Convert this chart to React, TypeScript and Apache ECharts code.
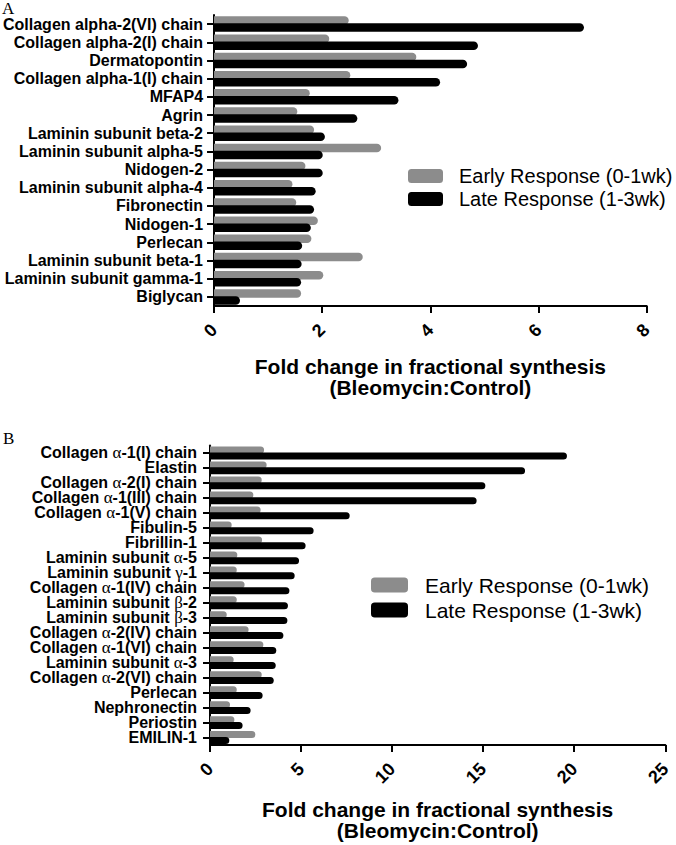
import React, { useEffect, useRef } from "react";
import * as echarts from "echarts";

const categoriesA = [
  "Collagen alpha-2(VI) chain",
  "Collagen alpha-2(I) chain",
  "Dermatopontin",
  "Collagen alpha-1(I) chain",
  "MFAP4",
  "Agrin",
  "Laminin subunit beta-2",
  "Laminin subunit alpha-5",
  "Nidogen-2",
  "Laminin subunit alpha-4",
  "Fibronectin",
  "Nidogen-1",
  "Perlecan",
  "Laminin subunit beta-1",
  "Laminin subunit gamma-1",
  "Biglycan",
];
const earlyA = [2.49, 2.13, 3.74, 2.52, 1.77, 1.54, 1.85, 3.09, 1.69, 1.45, 1.52, 1.92, 1.8, 2.75, 2.02, 1.61];
const lateA = [6.84, 4.88, 4.68, 4.18, 3.41, 2.65, 2.05, 2.01, 2.01, 1.88, 1.85, 1.79, 1.63, 1.62, 1.61, 0.48];

const categoriesB = [
  "Collagen α-1(I) chain",
  "Elastin",
  "Collagen α-2(I) chain",
  "Collagen α-1(III) chain",
  "Collagen α-1(V) chain",
  "Fibulin-5",
  "Fibrillin-1",
  "Laminin subunit α-5",
  "Laminin subunit γ-1",
  "Collagen α-1(IV) chain",
  "Laminin subunit β-2",
  "Laminin subunit β-3",
  "Collagen α-2(IV) chain",
  "Collagen α-1(VI) chain",
  "Laminin subunit α-3",
  "Collagen α-2(VI) chain",
  "Perlecan",
  "Nephronectin",
  "Periostin",
  "EMILIN-1",
];
const earlyB = [2.97, 3.11, 2.84, 2.38, 2.78, 1.19, 2.86, 1.5, 1.47, 1.9, 1.47, 0.92, 2.12, 2.93, 1.3, 2.84, 1.47, 1.1, 1.34, 2.49];
const lateB = [19.6, 17.3, 15.12, 14.64, 7.67, 5.69, 5.25, 4.89, 4.65, 4.36, 4.28, 4.25, 4.03, 3.64, 3.61, 3.5, 2.89, 2.23, 1.79, 1.06];

const seriesNames = ["Early Response (0-1wk)", "Late Response (1-3wk)"];
const axisTitle = "Fold change in fractional synthesis\n(Bleomycin:Control)";

const GRAY = "#8c8c8c";
const BLACK = "#000000";
const FONT = "Liberation Sans, Arial, sans-serif";

export default function App() {
  const ref = useRef<HTMLDivElement>(null);
  useEffect(() => {
    if (!ref.current) return;
    const chart = echarts.init(ref.current, null, { renderer: "svg" });
    const axisLine = { show: true, lineStyle: { color: "#000", width: 2 } };
    const axisTick = { show: true, length: 7, lineStyle: { color: "#000", width: 2 } };
    const xLabel = { rotate: 45, fontSize: 18, fontWeight: "bold", color: "#000", fontFamily: FONT, margin: 21 };
    const option: any = {
      animation: false,
      backgroundColor: "#fff",
      graphic: [
        { type: "text", left: 2, top: 0, style: { text: "A", fontFamily: "Liberation Serif, serif", fontSize: 17, fill: "#000" } },
        { type: "text", left: 3, top: 430, style: { text: "B", fontFamily: "Liberation Serif, serif", fontSize: 17, fill: "#000" } },
      ],
      legend: [
        {
          data: seriesNames,
          orient: "vertical",
          left: 408,
          top: 166,
          padding: 0,
          itemWidth: 35,
          itemHeight: 14,
          itemGap: 3,
          icon: "roundRect",
          textStyle: { fontSize: 20, lineHeight: 20, fontFamily: FONT, color: "#000", padding: [0, 0, 0, 11] },
        },
        {
          data: seriesNames,
          orient: "vertical",
          left: 371,
          top: 574.5,
          padding: 0,
          itemWidth: 37,
          itemHeight: 15,
          itemGap: 4,
          icon: "roundRect",
          textStyle: { fontSize: 21, lineHeight: 21, fontFamily: FONT, color: "#000", padding: [0, 0, 0, 12] },
        },
      ],
      grid: [
        { left: 212.7, width: 434, top: 15, height: 291 },
        { left: 210, width: 455.3, top: 445.5, height: 299.5 },
      ],
      xAxis: [
        {
          gridIndex: 0,
          type: "value",
          min: 0,
          max: 8,
          interval: 2,
          axisLine,
          axisTick,
          splitLine: { show: false },
          axisLabel: xLabel,
          name: axisTitle,
          nameLocation: "middle",
          nameGap: 50,
          nameTextStyle: { fontSize: 21, lineHeight: 21, fontWeight: "bold", color: "#000", fontFamily: FONT },
        },
        {
          gridIndex: 1,
          type: "value",
          min: 0,
          max: 25,
          interval: 5,
          axisLine,
          axisTick,
          splitLine: { show: false },
          axisLabel: xLabel,
          name: axisTitle,
          nameLocation: "middle",
          nameGap: 54,
          nameTextStyle: { fontSize: 21, lineHeight: 21, fontWeight: "bold", color: "#000", fontFamily: FONT },
        },
      ],
      yAxis: [
        {
          gridIndex: 0,
          type: "category",
          data: categoriesA,
          inverse: true,
          axisLine,
          axisTick: { ...axisTick, alignWithLabel: true },
          axisLabel: { fontSize: 16, fontWeight: "bold", color: "#000", fontFamily: FONT, margin: 11, interval: 0 },
        },
        {
          gridIndex: 1,
          type: "category",
          data: categoriesB,
          inverse: true,
          axisLine,
          axisTick: { ...axisTick, alignWithLabel: true },
          axisLabel: {
            fontSize: 16,
            lineHeight: 15,
            fontWeight: "bold",
            color: "#000",
            fontFamily: FONT,
            margin: 13,
            interval: 0,
            formatter: (v: string) => v.replace(/([αβγ])/g, "{g|$1}"),
            rich: { g: { fontSize: 17, lineHeight: 15, fontWeight: "normal", fontFamily: "Liberation Serif, serif", color: "#000" } },
          },
        },
      ],
      series: [
        {
          type: "bar",
          name: seriesNames[0],
          xAxisIndex: 0,
          yAxisIndex: 0,
          data: earlyA,
          barWidth: 8.5,
          barGap: "-18%",
          itemStyle: { color: GRAY, borderRadius: [0, 4.5, 4.5, 0] },
        },
        {
          type: "bar",
          name: seriesNames[1],
          xAxisIndex: 0,
          yAxisIndex: 0,
          data: lateA,
          barWidth: 8.5,
          barGap: "-18%",
          itemStyle: { color: BLACK, borderRadius: [0, 4.5, 4.5, 0] },
        },
        {
          type: "bar",
          name: seriesNames[0],
          xAxisIndex: 1,
          yAxisIndex: 1,
          data: earlyB,
          barWidth: 7,
          barGap: "-17%",
          itemStyle: { color: GRAY, borderRadius: [0, 3.5, 3.5, 0] },
        },
        {
          type: "bar",
          name: seriesNames[1],
          xAxisIndex: 1,
          yAxisIndex: 1,
          data: lateB,
          barWidth: 7,
          barGap: "-17%",
          itemStyle: { color: BLACK, borderRadius: [0, 3.5, 3.5, 0] },
        },
      ],
    };
    chart.setOption(option);
    return () => chart.dispose();
  }, []);
  return <div ref={ref} style={{ position: "absolute", left: 0, top: 0, width: 676, height: 845 }} />;
}
